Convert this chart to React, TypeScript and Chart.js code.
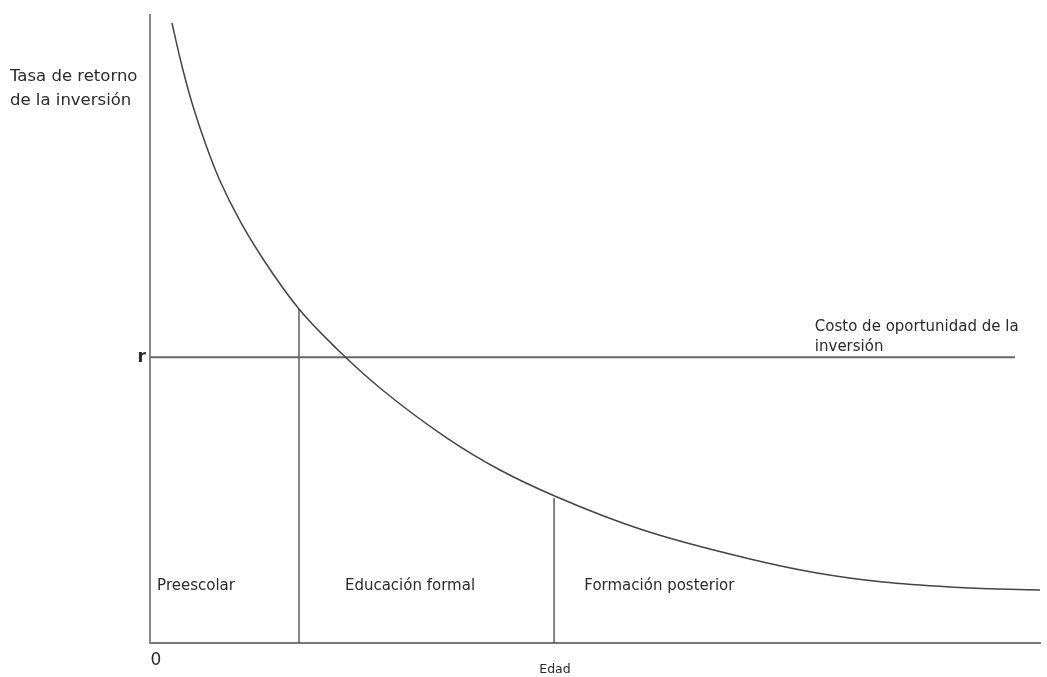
import React, { useEffect, useRef } from "react";
import { Chart, registerables } from "chart.js";

Chart.register(...registerables);

// Curve: rate of return on investment by age (arbitrary units, 0-100)
const curveX = [2.47, 3.37, 4.49, 5.62, 6.74, 7.87, 10.11, 12.7, 16.74, 21.01, 25.84, 33.37, 39.33, 45.73, 55.39, 67.42, 74.94, 82.36, 89.89, 95.51, 100];
const curveY = [98.73, 93.15, 87.1, 82.01, 77.55, 73.57, 67.2, 61.15, 53.18, 46.82, 40.61, 32.64, 27.55, 23.25, 17.99, 13.38, 11.15, 9.71, 8.92, 8.6, 8.44];

// Opportunity cost line r
const rateR = 45.5;
const rLineX = [0, 97.2];

// Stage boundaries (x) and their heights where they meet the curve
const stageBoundX = [16.74, 45.4];
const stageBoundTop = [53.18, 23.1];

// Stage labels
const stageLabels = ["Preescolar", "Educación formal", "Formación posterior"];
const stageLabelX = [0.8, 21.9, 48.8];
const stageLabelY = [9.0, 9.0, 9.0];

const costLabelLines = ["Costo de oportunidad de la", "inversión"];
const costLabelX = 74.7;
const costLabelY = [50.3, 47.1];

const yTitleLines = ["Tasa de retorno", "de la inversión"];
const xTitle = "Edad";
const originLabel = "0";
const rLabel = "r";

const FONT = "'DejaVu Sans', sans-serif";

const textPlugin = {
  id: "textPlugin",
  afterDraw(chart: any) {
    const ctx = chart.ctx;
    const xs = chart.scales.x;
    const ys = chart.scales.y;
    ctx.save();
    ctx.fillStyle = "#2a2a2a";
    ctx.textBaseline = "middle";
    ctx.font = `15px ${FONT}`;
    ctx.textAlign = "left";
    stageLabels.forEach((t, i) => {
      ctx.fillText(t, xs.getPixelForValue(stageLabelX[i]), ys.getPixelForValue(stageLabelY[i]));
    });
    costLabelLines.forEach((t, i) => {
      ctx.fillText(t, xs.getPixelForValue(costLabelX), ys.getPixelForValue(costLabelY[i]));
    });
    // y title top-left
    ctx.font = `16.5px ${FONT}`;
    ctx.fillText(yTitleLines[0], 10, 77);
    ctx.fillText(yTitleLines[1], 10, 101);
    // r label
    ctx.font = `bold 17px ${FONT}`;
    ctx.textAlign = "right";
    ctx.fillText(rLabel, xs.left - 4, ys.getPixelForValue(rateR));
    // origin
    ctx.font = `17px ${FONT}`;
    ctx.textAlign = "center";
    ctx.fillText(originLabel, xs.getPixelForValue(0) + 6, ys.bottom + 18);
    // x title
    ctx.font = `12.5px ${FONT}`;
    ctx.fillText(xTitle, xs.getPixelForValue(45.5), ys.bottom + 27);
    ctx.restore();
  },
};

export default function App() {
  const ref = useRef<HTMLCanvasElement>(null);
  useEffect(() => {
    document.body.style.margin = "0";
    const canvas = ref.current!;
    const curveData = curveX.map((x, i) => ({ x, y: curveY[i] }));
    const rData = rLineX.map((x) => ({ x, y: rateR }));
    const boundSets = stageBoundX.map((x, i) => ({
      type: "line" as const,
      data: [{ x, y: 0 }, { x, y: stageBoundTop[i] }],
      borderColor: "#444",
      borderWidth: 1.3,
      pointRadius: 0,
      tension: 0,
    }));
    const chart = new Chart(canvas, {
      type: "line",
      data: {
        datasets: [
          {
            data: curveData,
            borderColor: "#444",
            borderWidth: 1.5,
            pointRadius: 0,
            cubicInterpolationMode: "monotone",
            fill: false,
          },
          {
            data: rData,
            borderColor: "#666",
            borderWidth: 1.8,
            pointRadius: 0,
            tension: 0,
          },
          ...boundSets,
        ] as any,
      },
      options: {
        animation: false,
        responsive: false,
        maintainAspectRatio: false,
        layout: { padding: { left: 150, top: 15, right: 7, bottom: 34 } },
        plugins: { legend: { display: false }, tooltip: { enabled: false } },
        scales: {
          x: {
            type: "linear",
            min: 0,
            max: 100,
            grid: { display: false, drawTicks: false },
            border: { display: true, color: "#777", width: 2 },
            ticks: { display: false },
          },
          y: {
            type: "linear",
            min: 0,
            max: 100,
            grid: { display: false, drawTicks: false },
            border: { display: true, color: "#888", width: 2 },
            ticks: { display: false },
          },
        },
      },
      plugins: [textPlugin],
    });
    return () => chart.destroy();
  }, []);
  return (
    <canvas
      ref={ref}
      width={1047}
      height={677}
      style={{ position: "absolute", left: 0, top: 0, width: 1047, height: 677, background: "#fff" }}
    />
  );
}
